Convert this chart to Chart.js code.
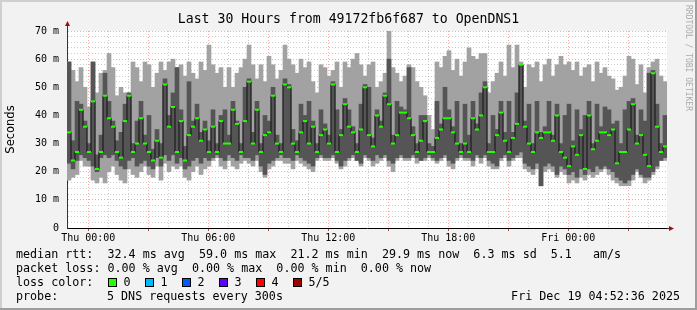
<!DOCTYPE html>
<html>
<head>
<meta charset="utf-8">
<script src="https://cdn.jsdelivr.net/npm/chart.js@4/dist/chart.umd.min.js"></script>
<style>
body { margin: 0; background: #f2f2f2; }
#wrap { width: 697px; height: 310px; }
</style>
</head>
<body>
<div id="wrap"><canvas id="rrd"></canvas></div>
<script>
// hours relative to Thu 00:00, one bar = 12 minutes
const startHour = -1.065
const endHour = 28.935
const stepHours = 0.2

const pingMin = [
    17, 18, 19, 24, 22,  22, 17, 16, 18, 16,  20, 22, 19, 17, 16,  21, 19, 18, 20, 22,
    19, 18, 22, 17, 23,  20, 22, 21, 22, 18,  17, 20, 22, 19, 21,  22, 24, 25, 22, 21,
    24, 22, 21, 23, 24,  23, 22, 24, 20, 18,  21, 22, 24, 24, 23,  23, 21, 24, 23, 22,
    21, 20, 24, 25, 24,  24, 25, 23, 21, 22,  24, 25, 24, 22, 25,  24, 22, 23, 24, 25,
    22, 20, 24, 25, 24,  24, 25, 23, 24, 24,  25, 24, 23, 24, 25,  22, 21, 24, 25, 24,
    24, 22, 25, 23, 25,  22, 21, 21, 24, 25,  22, 24, 25, 25, 21,  20, 19, 21, 15, 20,
    21, 20, 18, 20, 19,  16, 17, 16, 18, 17,  19, 18, 19, 20, 21,  19, 17, 16, 15, 15,
    15, 17, 20, 18, 16,  17, 19, 21, 24, 24
]
const pingLow = [
    23, 21, 24, 26, 25,  24, 22, 20, 25, 26,  25, 26, 24, 22, 21,  24, 25, 22, 23, 24,
    22, 21, 25, 22, 26,  24, 26, 23, 25, 21,  22, 24, 25, 23, 25,  24, 25, 26, 25, 24,
    26, 25, 24, 26, 25,  25, 24, 26, 22, 19,  23, 24, 25, 26, 25,  25, 24, 26, 25, 24,
    23, 22, 25, 26, 25,  25, 26, 24, 22, 24,  25, 26, 24, 23, 26,  25, 24, 26, 25, 26,
    24, 23, 25, 26, 25,  25, 26, 25, 24, 25,  26, 25, 24, 25, 26,  24, 23, 25, 26, 25,
    25, 24, 26, 25, 26,  24, 23, 22, 25, 26,  24, 25, 26, 27, 23,  22, 21, 23, 15, 22,
    23, 22, 19, 22, 21,  19, 20, 18, 21, 19,  21, 20, 22, 21, 22,  21, 20, 18, 17, 16,
    17, 19, 21, 19, 18,  18, 20, 22, 24, 25
]
const pingMedian = [
    34, 24, 27, 42, 36,  27, 45, 21, 27, 47,  39, 36, 27, 25, 38,  47, 27, 30, 39, 30,
    27, 24, 31, 25, 51,  36, 43, 27, 38, 24,  33, 36, 39, 31, 35,  27, 36, 27, 38, 30,
    30, 42, 37, 27, 38,  52, 30, 42, 27, 33,  34, 47, 30, 27, 51,  50, 30, 27, 34, 38,
    30, 36, 27, 33, 35,  30, 51, 27, 33, 44,  36, 34, 27, 35, 50,  33, 29, 40, 36, 47,
    44, 30, 33, 41, 41,  39, 33, 27, 31, 38,  27, 27, 32, 35, 39,  39, 34, 30, 27, 30,
    27, 39, 35, 40, 50,  27, 27, 33, 41, 31,  27, 32, 37, 58, 36,  30, 27, 34, 32, 34,
    34, 31, 40, 27, 25,  22, 29, 26, 33, 21,  40, 28, 31, 34, 34,  33, 35, 23, 27, 27,
    35, 44, 30, 33, 26,  22, 55, 36, 27, 29
]
const pingHigh = [
    59, 31, 45, 44, 38,  30, 59, 26, 33, 55,  45, 38, 31, 34, 44,  48, 30, 38, 45, 33,
    40, 28, 35, 30, 53,  40, 48, 57, 42, 29,  52, 38, 44, 34, 38,  31, 42, 30, 40, 42,
    33, 45, 38, 30, 50,  53, 34, 45, 30, 40,  38, 50, 33, 30, 53,  51, 35, 31, 44, 40,
    45, 38, 30, 42, 37,  33, 52, 42, 35, 46,  42, 36, 30, 44, 51,  50, 32, 42, 38, 48,
    60, 33, 45, 43, 42,  57, 36, 30, 40, 40,  30, 29, 45, 37, 50,  42, 36, 45, 30, 44,
    33, 45, 37, 48, 52,  30, 40, 35, 45, 34,  45, 34, 48, 58, 38,  44, 30, 45, 34, 36,
    45, 33, 44, 30, 40,  44, 31, 42, 35, 40,  45, 30, 44, 36, 43,  42, 37, 38, 30, 42,
    45, 46, 33, 42, 38,  55, 56, 44, 30, 40
]
const pingMax = [
    59, 56, 52, 57, 50,  43, 59, 48, 55, 56,  62, 57, 47, 50, 48,  48, 59, 57, 52, 59,
    58, 50, 55, 59, 56,  59, 60, 57, 58, 54,  59, 55, 53, 59, 56,  65, 58, 55, 57, 50,
    57, 50, 55, 57, 60,  65, 58, 53, 58, 52,  61, 58, 53, 56, 65,  60, 58, 55, 60, 57,
    59, 52, 48, 58, 57,  54, 56, 59, 50, 59,  57, 60, 62, 58, 54,  58, 59, 50, 52, 55,
    70, 57, 55, 52, 54,  58, 57, 52, 50, 47,  40, 35, 59, 57, 61,  63, 56, 60, 54, 59,
    64, 61, 60, 62, 62,  48, 52, 55, 59, 54,  65, 57, 65, 59, 50,  58, 57, 59, 52, 58,
    60, 54, 58, 61, 58,  59, 56, 59, 54, 57,  58, 52, 59, 55, 57,  54, 53, 49, 50, 54,
    61, 60, 51, 58, 48,  57, 59, 60, 54, 52
]

const xTickHours = [0, 6, 12, 18, 24]
const xTickLabels = ['Thu 00:00', 'Thu 06:00', 'Thu 12:00', 'Thu 18:00', 'Fri 00:00']
const yTickValues = [0, 10, 20, 30, 40, 50, 60, 70]

const titleText = 'Last 30 Hours from 49172fb6f687 to OpenDNS1'
const statLines = [
    'median rtt:  32.4 ms avg  59.0 ms max  21.2 ms min  29.9 ms now  6.3 ms sd  5.1   am/s',
    'packet loss: 0.00 % avg  0.00 % max  0.00 % min  0.00 % now'
]
const lossLabels = ['0', '1', '2', '3', '4', '5/5']
const lossColors = ['#26ff00', '#00b8ff', '#0059ff', '#5e00ff', '#ff0000', '#a00000']
const probeText = '5 DNS requests every 300s'
const stampText = 'Fri Dec 19 04:52:36 2025'
const watermark = 'RRDTOOL / TOBI OETIKER'

const majorGrid = 'rgba(255, 0, 0, 0.35)'
const minorGrid = 'rgba(130, 130, 130, 0.4)'
const mono = '"DejaVu Sans Mono"'

const hourAt = i => startHour + stepHours * (i + 0.5)
const outerBand = pingMin.map((v, i) => ({x: hourAt(i), y: [v, pingMax[i]]}))
const innerBand = pingLow.map((v, i) => ({x: hourAt(i), y: [v, pingHigh[i]]}))
const medianPts = pingMedian.map((v, i) => ({x: hourAt(i), y: v}))

let hourLines = []
for (let h = 0; h <= 28; h++) hourLines.push(h)
let msLines = []
for (let v = 0; v <= 70; v += 2) msLines.push(v)

const rrdFrame = {
    id: 'rrdFrame',
    beforeDraw(chart) {
        const {ctx, chartArea: a, width, height} = chart
        ctx.save()
        ctx.fillStyle = '#f2f2f2'
        ctx.fillRect(0, 0, width, height)
        ctx.fillStyle = '#cfcfcf'
        ctx.fillRect(0, 0, width, 2)
        ctx.fillRect(0, 0, 2, height)
        ctx.fillStyle = '#9e9e9e'
        ctx.fillRect(0, height - 2, width, 2)
        ctx.fillRect(width - 2, 0, 2, height)
        ctx.fillStyle = '#ffffff'
        ctx.fillRect(a.left, a.top, a.right - a.left, a.bottom - a.top)
        ctx.restore()
    },
    afterDraw(chart) {
        const {ctx, chartArea: a} = chart
        const xs = chart.scales.x
        ctx.save()

        // axis arrows
        ctx.strokeStyle = '#333'
        ctx.lineWidth = 1
        ctx.beginPath()
        ctx.moveTo(a.left + 0.5, a.top)
        ctx.lineTo(a.left + 0.5, 25)
        ctx.moveTo(a.right, a.bottom + 0.5)
        ctx.lineTo(a.right + 3, a.bottom + 0.5)
        ctx.stroke()
        ctx.fillStyle = '#9a1010'
        ctx.beginPath()
        ctx.moveTo(a.left + 0.5, 21)
        ctx.lineTo(a.left + 3, 26)
        ctx.lineTo(a.left - 2, 26)
        ctx.closePath()
        ctx.fill()
        ctx.beginPath()
        ctx.moveTo(a.right + 7, a.bottom + 0.5)
        ctx.lineTo(a.right + 2, a.bottom + 3)
        ctx.lineTo(a.right + 2, a.bottom - 2)
        ctx.closePath()
        ctx.fill()

        // little marks under the time axis
        ctx.strokeStyle = '#a05050'
        ctx.beginPath()
        hourLines.filter(h => h % 3 === 0).forEach(h => {
            const px = Math.round(xs.getPixelForValue(h)) + 0.5
            ctx.moveTo(px, a.bottom + 1)
            ctx.lineTo(px, a.bottom + 3)
        })
        ctx.stroke()

        ctx.fillStyle = '#000'
        ctx.textBaseline = 'middle'
        ctx.font = '13.2px ' + mono
        ctx.textAlign = 'center'
        ctx.fillText(titleText, 348.5, 19.5)

        ctx.font = '11.7px ' + mono
        ctx.textAlign = 'left'
        ctx.fillText(statLines[0], 16, 254.5)
        ctx.fillText(statLines[1], 16, 268.5)
        ctx.fillText('loss color:', 16, 282.5)
        lossLabels.forEach((lab, i) => {
            const bx = 108 + i * 37
            ctx.fillStyle = lossColors[i]
            ctx.fillRect(bx, 278, 9, 9)
            ctx.strokeStyle = '#000'
            ctx.strokeRect(bx + 0.5, 278.5, 8, 8)
            ctx.fillStyle = '#000'
            ctx.fillText(lab, bx + 15.5, 282.5)
        })
        ctx.fillText('probe:', 16, 296.5)
        ctx.fillText(probeText, 107, 296.5)
        ctx.textAlign = 'right'
        ctx.fillText(stampText, 680, 296.5)

        ctx.translate(688, 5)
        ctx.rotate(Math.PI / 2)
        ctx.textAlign = 'left'
        ctx.fillStyle = '#aaaaaa'
        ctx.font = '8px ' + mono
        ctx.fillText(watermark, 0, 0)
        ctx.restore()
    }
}

new Chart(document.getElementById('rrd'), {
    type: 'bar',
    data: {
        datasets: [
            {
                type: 'line',
                data: medianPts,
                borderColor: '#111',
                borderWidth: 1,
                stepped: 'middle',
                pointStyle: 'line',
                pointRadius: 2,
                pointBorderColor: lossColors[0],
                pointBorderWidth: 2,
                order: 0
            },
            {
                data: innerBand,
                backgroundColor: '#555555',
                grouped: false,
                barPercentage: 1,
                categoryPercentage: 1,
                order: 1
            },
            {
                data: outerBand,
                backgroundColor: '#a2a2a2',
                grouped: false,
                barPercentage: 1,
                categoryPercentage: 1,
                order: 2
            }
        ]
    },
    options: {
        responsive: true,
        maintainAspectRatio: false,
        animation: false,
        events: [],
        layout: {padding: {top: 31, right: 30, left: 0, bottom: 0}},
        plugins: {legend: {display: false}, tooltip: {enabled: false}},
        scales: {
            x: {
                type: 'linear',
                min: startHour,
                max: endHour,
                offset: false,
                z: 1,
                afterBuildTicks: s => { s.ticks = hourLines.map(v => ({value: v})) },
                afterFit: s => { s.height = 82 },
                ticks: {
                    autoSkip: false,
                    maxRotation: 0,
                    padding: 4,
                    color: '#000',
                    font: {family: 'DejaVu Sans Mono', size: 10},
                    callback: v => {
                        const k = xTickHours.indexOf(v)
                        return k >= 0 ? xTickLabels[k] : ''
                    }
                },
                grid: {
                    offset: false,
                    drawTicks: false,
                    color: c => (c.tick && c.tick.value % 3 === 0) ? majorGrid : minorGrid
                },
                border: {color: '#000', width: 1, dash: [1, 2]}
            },
            y: {
                min: 0,
                max: 70,
                z: 1,
                afterBuildTicks: s => { s.ticks = msLines.map(v => ({value: v})) },
                afterFit: s => { s.width = 67 },
                ticks: {
                    autoSkip: false,
                    padding: 8,
                    color: '#000',
                    font: {family: 'DejaVu Sans Mono', size: 10},
                    callback: v => yTickValues.includes(v) ? (v === 0 ? '0' : v + ' m') : ''
                },
                grid: {
                    drawTicks: false,
                    color: c => (c.tick && c.tick.value % 10 === 0) ? majorGrid : minorGrid
                },
                border: {color: '#333', width: 1, dash: [1, 2]},
                title: {
                    display: true,
                    text: 'Seconds',
                    color: '#000',
                    font: {family: 'DejaVu Sans', size: 11.5},
                    padding: {top: 4, bottom: 0}
                }
            }
        }
    },
    plugins: [rrdFrame]
})
</script>
</body>
</html>
